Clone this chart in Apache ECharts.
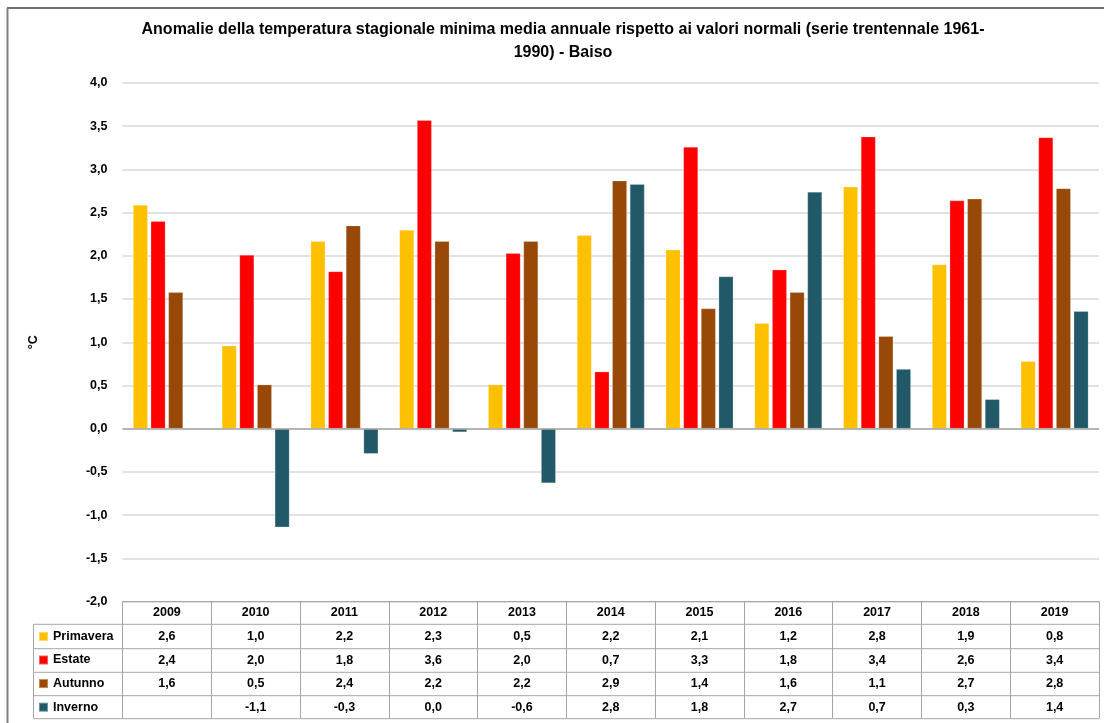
<!DOCTYPE html>
<html>
<head>
<meta charset="utf-8">
<script src="https://cdn.jsdelivr.net/npm/echarts@6/dist/echarts.min.js"></script>
<style>
  html, body { margin: 0; padding: 0; background: #fff; }
  #BarMain { width: 1104px; height: 723px; }
</style>
</head>
<body>
<div id="BarMain"></div>
<script>
var years = ['2009', '2010', '2011', '2012', '2013', '2014', '2015', '2016', '2017', '2018', '2019'];
var primavera = [2.59, 0.96, 2.17, 2.30, 0.51, 2.24, 2.07, 1.22, 2.80, 1.90, 0.78];
var estate    = [2.40, 2.01, 1.82, 3.57, 2.03, 0.66, 3.26, 1.84, 3.38, 2.64, 3.37];
var autunno   = [1.58, 0.51, 2.35, 2.17, 2.17, 2.87, 1.39, 1.58, 1.07, 2.66, 2.78];
var inverno   = [null, -1.14, -0.29, -0.04, -0.63, 2.83, 1.76, 2.74, 0.69, 0.34, 1.36];
var seriesNames = ['Primavera', 'Estate', 'Autunno', 'Inverno'];
var colors = ['#FFC000', '#FF0000', '#984807', '#215968'];
var yTicks = { min: -2, max: 4, step: 0.5 };

var FONT = '"Liberation Sans", Arial, sans-serif';
var gridLine = '#D9D9D9';
var tableLine = '#A6A6A6';

function fmt(v) {
  if (v == null) return '';
  var s = v.toFixed(1);
  if (s === '-0.0') s = '0.0';
  return s.replace('.', ',');
}

var allSeries = [primavera, estate, autunno, inverno];

// righe della tabella dati sotto il grafico
var rowOffsets = [23.4, 47.5, 71, 94.2];
var tableAxes = allSeries.map(function (arr, i) {
  return {
    type: 'category',
    gridIndex: 0,
    position: 'bottom',
    offset: rowOffsets[i],
    data: arr.map(fmt),
    axisLine: { show: false, onZero: false },
    axisTick: { show: false },
    splitLine: { show: false },
    axisLabel: {
      interval: 0, margin: 5, color: '#000',
      fontWeight: 'bold', fontSize: 12.5, lineHeight: 13, fontFamily: FONT
    }
  };
});

var chart = echarts.init(document.getElementById('BarMain'));

var rowLinesY = [624.3, 648.7, 672.3, 695.7, 718.7];
var graphics = [
  { type: 'line', shape: { x1: 7, y1: 8, x2: 1104, y2: 8 }, style: { stroke: '#404040', lineWidth: 1.5 } },
  { type: 'line', shape: { x1: 7.5, y1: 8, x2: 7.5, y2: 723 }, style: { stroke: '#808080', lineWidth: 2 } },
  { type: 'line', shape: { x1: 33.5, y1: 624.3, x2: 33.5, y2: 718.7 }, style: { stroke: tableLine, lineWidth: 1 } },
  {
    type: 'text', x: 563, y: 18,
    style: {
      text: 'Anomalie della temperatura stagionale minima media annuale rispetto ai valori normali (serie trentennale 1961-\n1990) - Baiso',
      align: 'center', verticalAlign: 'top', lineHeight: 23,
      fontSize: 16, fontWeight: 'bold', fontFamily: FONT, fill: '#000'
    }
  }
];
rowLinesY.forEach(function (y) {
  graphics.push({ type: 'line', shape: { x1: 33.5, y1: y, x2: 1099, y2: y }, style: { stroke: tableLine, lineWidth: 1 } });
});

chart.setOption({
  animation: false,
  textStyle: { fontFamily: FONT },
  grid: { left: 122.5, right: 5, top: 83, bottom: 121.5 },
  legend: {
    data: seriesNames,
    orient: 'vertical',
    left: 38, top: 629.4,
    padding: 0,
    icon: 'rect',
    itemWidth: 9, itemHeight: 9, itemGap: 9.6,
    textStyle: { fontWeight: 'bold', fontSize: 12.5, lineHeight: 14, color: '#000', fontFamily: FONT }
  },
  graphic: graphics,
  xAxis: [{
    type: 'category',
    data: years,
    position: 'bottom',
    axisLine: { show: true, onZero: false, lineStyle: { color: tableLine, width: 1 } },
    axisTick: { show: true, interval: 0, alignWithLabel: false, length: 117, lineStyle: { color: tableLine, width: 1 } },
    axisLabel: {
      interval: 0, margin: 5, color: '#000',
      fontWeight: 'bold', fontSize: 12.5, lineHeight: 13, fontFamily: FONT
    },
    splitLine: { show: false }
  }].concat(tableAxes),
  yAxis: {
    type: 'value',
    min: yTicks.min, max: yTicks.max, interval: yTicks.step,
    name: '°C',
    nameLocation: 'middle',
    nameGap: 82,
    nameRotate: 90,
    nameTextStyle: { fontWeight: 'bold', fontSize: 12.5, color: '#000', fontFamily: FONT },
    axisLine: { show: false },
    axisTick: { show: false },
    axisLabel: {
      margin: 15, color: '#000', fontWeight: 'bold', fontSize: 12.5, fontFamily: FONT,
      formatter: function (v) { return fmt(v); }
    },
    splitLine: { lineStyle: { color: gridLine, width: 1.5 } }
  },
  series: allSeries.map(function (arr, i) {
    var s = {
      name: seriesNames[i],
      type: 'bar',
      data: arr,
      barWidth: 14.7,
      barGap: '20%',
      itemStyle: { color: colors[i], borderColor: 'rgba(255,255,255,0.35)', borderWidth: 0.6 }
    };
    if (i === 3) {
      s.markLine = {
        silent: true, symbol: 'none', animation: false,
        label: { show: false },
        lineStyle: { color: '#A6A6A6', width: 1.5, type: 'solid' },
        data: [{ yAxis: 0 }]
      };
    }
    return s;
  })
});

window.addEventListener('resize', function () {
  chart.resize();
});
</script>
</body>
</html>
